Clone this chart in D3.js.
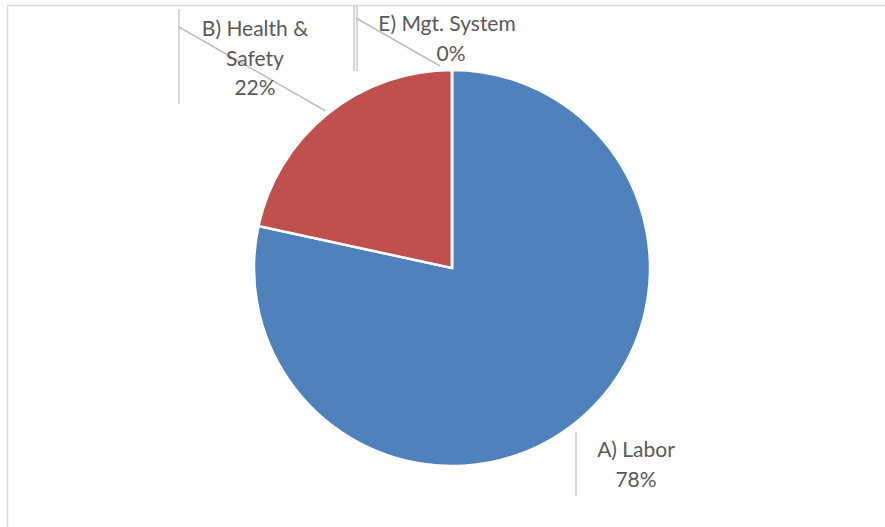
<!DOCTYPE html>
<meta charset="utf-8">
<style>
body{margin:0;background:#fff;}
svg text{font-family: Lato, "Noto Sans", sans-serif; font-size:21px; fill:#595959;}
</style>
<svg id="chart" width="885" height="527"></svg>
<script src="https://d3js.org/d3.v7.min.js"></script>
<script>
// categories and their shares
const categories = ['A) Labor', 'B) Health & Safety', 'E) Mgt. System']
const values = [78.4, 21.6, 0]
const colors = ['#4F81BD', '#C0504D', '#8064A2']
// label lines as they wrap in the original
const labelLines = [['A) Labor'], ['B) Health &', 'Safety'], ['E) Mgt. System']]

const svg = d3.select('#chart')
const cx = 452, cy = 268, r = 198

// plot frame (only top and left edges visible)
svg.append('path')
  .attr('d', 'M7.5,527V5.5H885')
  .attr('fill', 'none')
  .attr('stroke', '#d9d9d9')
  .attr('stroke-width', 1.5)

const total = d3.sum(values)
const data = categories.map((c, i) => ({name: c, value: values[i], lines: labelLines[i], color: colors[i]}))

const pie = d3.pie().sort(null).value(d => d.value)
const arc = d3.arc().innerRadius(0).outerRadius(r)
const arcs = pie(data)

const g = svg.append('g').attr('transform', `translate(${cx},${cy})`)
g.selectAll('path.slice').data(arcs).enter()
  .append('path')
  .attr('class', 'slice')
  .attr('d', arc)
  .attr('fill', d => d.data.color)
  .attr('stroke', '#fff')
  .attr('stroke-width', 2.5)
  .attr('stroke-linejoin', 'miter')

// label placement: box left edge, top of first line, text centre
const labelBox = [
  {x: 576, top: 432, bottom: 496, cx: 636, y0: 457, lead: null},
  {x: 179, top: 9, bottom: 104, cx: 255, y0: 36, lead: [179, 27]},
  {x: 354, top: 6, bottom: 71, cx: 447, y0: 31, lead: [356, 18], double: true}
]
const pct = d3.format('.0%')
const lineH = 29.5

arcs.forEach((a, i) => {
  const b = labelBox[i]
  const col = svg.append('g')
  // box edge line
  col.append('line')
    .attr('x1', b.x).attr('x2', b.x).attr('y1', b.top).attr('y2', b.bottom)
    .attr('stroke', '#c8c8c8').attr('stroke-width', 1.5)
  if (b.double) {
    col.append('line')
      .attr('x1', b.x + 3).attr('x2', b.x + 3).attr('y1', b.top).attr('y2', b.bottom)
      .attr('stroke', '#c8c8c8').attr('stroke-width', 1.5)
  }
  if (b.lead) {
    const mid = (a.startAngle + a.endAngle) / 2
    const rr = r + 4
    const ex = cx + rr * Math.sin(mid) - (a.value === 0 ? 12 : 0)
    const ey = cy - rr * Math.cos(mid)
    col.append('line')
      .attr('x1', b.lead[0]).attr('y1', b.lead[1]).attr('x2', ex).attr('y2', ey)
      .attr('stroke', '#bfbfbf').attr('stroke-width', 1.5)
  }
  const t = col.append('text').attr('text-anchor', 'middle')
  const lines = a.data.lines.concat([pct(a.data.value / total)])
  lines.forEach((ln, j) => {
    t.append('tspan').attr('x', j === lines.length - 1 && i === 2 ? b.cx + 4 : b.cx)
      .attr('y', b.y0 + j * lineH).text(ln)
  })
})
</script>
